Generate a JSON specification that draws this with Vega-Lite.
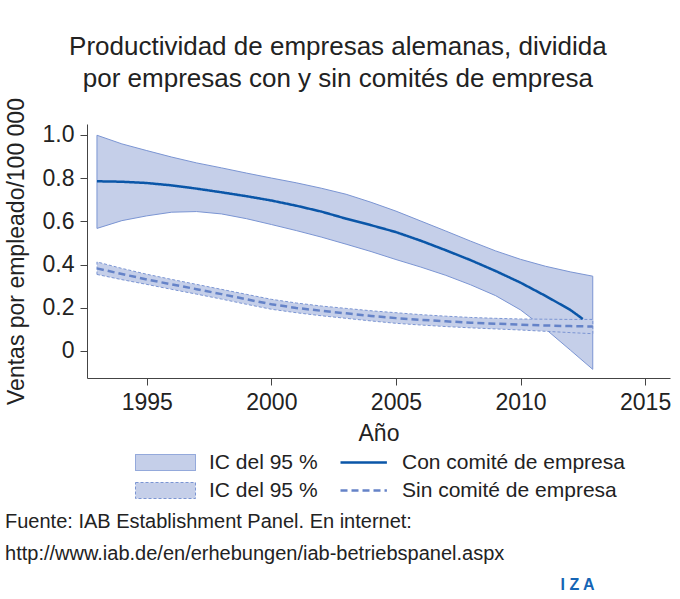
{
  "$schema": "https://vega.github.io/schema/vega-lite/v6.json",
  "background": "white",
  "padding": {"left": 5, "top": 33, "right": 8, "bottom": 2},
  "title": {"text": "I Z A", "orient": "bottom", "anchor": "end", "fontSize": 16, "fontWeight": "bold", "color": "#1565b5", "dx": -76, "offset": 13},
  "resolve": {"scale": {"fill": "independent", "stroke": "independent", "strokeDash": "independent"}, "legend": {"fill": "independent", "stroke": "independent", "strokeDash": "independent"}},
  "datasets": {
    "bandas": [
      {"banda": "IC con", "anio": 1993, "lo": 0.567, "hi": 0.998},
      {"banda": "IC con", "anio": 1994, "lo": 0.603, "hi": 0.958},
      {"banda": "IC con", "anio": 1995, "lo": 0.625, "hi": 0.927},
      {"banda": "IC con", "anio": 1996, "lo": 0.642, "hi": 0.897},
      {"banda": "IC con", "anio": 1997, "lo": 0.645, "hi": 0.870},
      {"banda": "IC con", "anio": 1998, "lo": 0.634, "hi": 0.847},
      {"banda": "IC con", "anio": 1999, "lo": 0.612, "hi": 0.823},
      {"banda": "IC con", "anio": 2000, "lo": 0.585, "hi": 0.800},
      {"banda": "IC con", "anio": 2001, "lo": 0.557, "hi": 0.778},
      {"banda": "IC con", "anio": 2002, "lo": 0.527, "hi": 0.753},
      {"banda": "IC con", "anio": 2003, "lo": 0.494, "hi": 0.725},
      {"banda": "IC con", "anio": 2004, "lo": 0.460, "hi": 0.688},
      {"banda": "IC con", "anio": 2005, "lo": 0.423, "hi": 0.647},
      {"banda": "IC con", "anio": 2006, "lo": 0.388, "hi": 0.601},
      {"banda": "IC con", "anio": 2007, "lo": 0.350, "hi": 0.555},
      {"banda": "IC con", "anio": 2008, "lo": 0.306, "hi": 0.508},
      {"banda": "IC con", "anio": 2009, "lo": 0.256, "hi": 0.463},
      {"banda": "IC con", "anio": 2010, "lo": 0.190, "hi": 0.424},
      {"banda": "IC con", "anio": 2011, "lo": 0.102, "hi": 0.392},
      {"banda": "IC con", "anio": 2012, "lo": 0.004, "hi": 0.366},
      {"banda": "IC con", "anio": 2012.9, "lo": -0.085, "hi": 0.346},
      {"banda": "IC sin", "anio": 1993, "lo": 0.354, "hi": 0.412},
      {"banda": "IC sin", "anio": 1994, "lo": 0.330, "hi": 0.382},
      {"banda": "IC sin", "anio": 1995, "lo": 0.308, "hi": 0.355},
      {"banda": "IC sin", "anio": 1996, "lo": 0.285, "hi": 0.331},
      {"banda": "IC sin", "anio": 1997, "lo": 0.263, "hi": 0.308},
      {"banda": "IC sin", "anio": 1998, "lo": 0.240, "hi": 0.285},
      {"banda": "IC sin", "anio": 1999, "lo": 0.216, "hi": 0.262},
      {"banda": "IC sin", "anio": 2000, "lo": 0.193, "hi": 0.239},
      {"banda": "IC sin", "anio": 2001, "lo": 0.177, "hi": 0.222},
      {"banda": "IC sin", "anio": 2002, "lo": 0.163, "hi": 0.208},
      {"banda": "IC sin", "anio": 2003, "lo": 0.151, "hi": 0.197},
      {"banda": "IC sin", "anio": 2004, "lo": 0.139, "hi": 0.186},
      {"banda": "IC sin", "anio": 2005, "lo": 0.128, "hi": 0.177},
      {"banda": "IC sin", "anio": 2006, "lo": 0.120, "hi": 0.168},
      {"banda": "IC sin", "anio": 2007, "lo": 0.113, "hi": 0.161},
      {"banda": "IC sin", "anio": 2008, "lo": 0.107, "hi": 0.155},
      {"banda": "IC sin", "anio": 2009, "lo": 0.102, "hi": 0.151},
      {"banda": "IC sin", "anio": 2010, "lo": 0.097, "hi": 0.148},
      {"banda": "IC sin", "anio": 2011, "lo": 0.091, "hi": 0.147},
      {"banda": "IC sin", "anio": 2012, "lo": 0.085, "hi": 0.146},
      {"banda": "IC sin", "anio": 2012.9, "lo": 0.080, "hi": 0.146}
    ],
    "lineas": [
      {"linea": "Con comité de empresa", "anio": 1993, "ajuste": 0.785},
      {"linea": "Con comité de empresa", "anio": 1994, "ajuste": 0.783},
      {"linea": "Con comité de empresa", "anio": 1995, "ajuste": 0.777},
      {"linea": "Con comité de empresa", "anio": 1996, "ajuste": 0.766},
      {"linea": "Con comité de empresa", "anio": 1997, "ajuste": 0.751},
      {"linea": "Con comité de empresa", "anio": 1998, "ajuste": 0.734},
      {"linea": "Con comité de empresa", "anio": 1999, "ajuste": 0.716},
      {"linea": "Con comité de empresa", "anio": 2000, "ajuste": 0.696},
      {"linea": "Con comité de empresa", "anio": 2001, "ajuste": 0.672},
      {"linea": "Con comité de empresa", "anio": 2002, "ajuste": 0.645},
      {"linea": "Con comité de empresa", "anio": 2003, "ajuste": 0.612},
      {"linea": "Con comité de empresa", "anio": 2004, "ajuste": 0.582},
      {"linea": "Con comité de empresa", "anio": 2005, "ajuste": 0.550},
      {"linea": "Con comité de empresa", "anio": 2006, "ajuste": 0.510},
      {"linea": "Con comité de empresa", "anio": 2007, "ajuste": 0.466},
      {"linea": "Con comité de empresa", "anio": 2008, "ajuste": 0.420},
      {"linea": "Con comité de empresa", "anio": 2009, "ajuste": 0.370},
      {"linea": "Con comité de empresa", "anio": 2010, "ajuste": 0.316},
      {"linea": "Con comité de empresa", "anio": 2011, "ajuste": 0.255},
      {"linea": "Con comité de empresa", "anio": 2012, "ajuste": 0.190},
      {"linea": "Con comité de empresa", "anio": 2012.5, "ajuste": 0.148},
      {"linea": "Sin comité de empresa", "anio": 1993, "ajuste": 0.382},
      {"linea": "Sin comité de empresa", "anio": 1994, "ajuste": 0.356},
      {"linea": "Sin comité de empresa", "anio": 1995, "ajuste": 0.331},
      {"linea": "Sin comité de empresa", "anio": 1996, "ajuste": 0.308},
      {"linea": "Sin comité de empresa", "anio": 1997, "ajuste": 0.286},
      {"linea": "Sin comité de empresa", "anio": 1998, "ajuste": 0.263},
      {"linea": "Sin comité de empresa", "anio": 1999, "ajuste": 0.239},
      {"linea": "Sin comité de empresa", "anio": 2000, "ajuste": 0.216},
      {"linea": "Sin comité de empresa", "anio": 2001, "ajuste": 0.199},
      {"linea": "Sin comité de empresa", "anio": 2002, "ajuste": 0.186},
      {"linea": "Sin comité de empresa", "anio": 2003, "ajuste": 0.174},
      {"linea": "Sin comité de empresa", "anio": 2004, "ajuste": 0.162},
      {"linea": "Sin comité de empresa", "anio": 2005, "ajuste": 0.152},
      {"linea": "Sin comité de empresa", "anio": 2006, "ajuste": 0.144},
      {"linea": "Sin comité de empresa", "anio": 2007, "ajuste": 0.137},
      {"linea": "Sin comité de empresa", "anio": 2008, "ajuste": 0.131},
      {"linea": "Sin comité de empresa", "anio": 2009, "ajuste": 0.126},
      {"linea": "Sin comité de empresa", "anio": 2010, "ajuste": 0.122},
      {"linea": "Sin comité de empresa", "anio": 2011, "ajuste": 0.118},
      {"linea": "Sin comité de empresa", "anio": 2012, "ajuste": 0.115},
      {"linea": "Sin comité de empresa", "anio": 2012.9, "ajuste": 0.113}
    ]
  },
  "vconcat": [
    {
      "title": {
        "text": ["Productividad de empresas alemanas, dividida", "por empresas con y sin comités de empresa"],
        "fontSize": 26, "fontWeight": "normal", "color": "#222222", "lineHeight": 32, "anchor": "middle", "offset": 6
      },
      "resolve": {"scale": {"fill": "independent", "stroke": "independent", "strokeDash": "independent"}, "legend": {"fill": "independent", "stroke": "independent", "strokeDash": "independent"}},
      "vconcat": [
        {
          "title": {
            "text": ["Fuente: IAB Establishment Panel. En internet:", "http://www.iab.de/en/erhebungen/iab-betriebspanel.aspx"],
            "orient": "bottom", "anchor": "start", "fontSize": 20, "fontWeight": "normal", "color": "#222222", "lineHeight": 32, "offset": 11
          },
          "width": 583,
          "height": 254,
          "layer": [
            {
              "data": {"name": "bandas"},
              "transform": [{"filter": "datum.banda == 'IC con'"}],
              "mark": {"type": "area", "stroke": "#7b95d3", "strokeWidth": 1},
              "encoding": {
                "x": {"field": "anio", "type": "quantitative", "scale": {"domain": [1992.6, 2016], "nice": false, "zero": false},
                      "axis": {"values": [1995, 2000, 2005, 2010, 2015], "format": "d", "title": "Año"}},
                "y": {"field": "lo", "type": "quantitative", "scale": {"domain": [-0.125, 1.05], "nice": false, "zero": false},
                      "axis": {"values": [0, 0.2, 0.4, 0.6, 0.8, 1.0], "labelExpr": "datum.value == 0 ? '0' : format(datum.value, '.1f')", "title": "Ventas por empleado/100 000"}},
                "y2": {"field": "hi"},
                "fill": {"field": "banda", "type": "nominal", "scale": {"domain": ["IC con", "IC sin"], "range": ["#c5cfe9", "#c5cfe9"]},
                         "legend": {"title": null, "orient": "bottom", "direction": "vertical", "symbolType": "M-1,-1H6.5V1H-1Z", "symbolSize": 256, "symbolStrokeColor": "#7b95d3", "symbolStrokeWidth": 1, "labelOffset": 55, "labelExpr": "'IC del 95 %'",
                                    "encode": {"symbols": {"update": {"strokeDash": {"signal": "datum.value == 'IC sin' ? [3, 2] : [1, 0]"}}}}}}
              }
            },
            {
              "data": {"name": "bandas"},
              "transform": [{"filter": "datum.banda == 'IC sin'"}],
              "mark": {"type": "area", "stroke": "#7b95d3", "strokeWidth": 1, "strokeDash": [3, 2]},
              "encoding": {
                "x": {"field": "anio", "type": "quantitative"},
                "y": {"field": "lo", "type": "quantitative"},
                "y2": {"field": "hi"},
                "fill": {"field": "banda", "type": "nominal"}
              }
            },
            {
              "data": {"name": "lineas"},
              "mark": {"type": "line", "strokeWidth": 2.5},
              "encoding": {
                "x": {"field": "anio", "type": "quantitative"},
                "y": {"field": "ajuste", "type": "quantitative"},
                "stroke": {"field": "linea", "type": "nominal", "scale": {"domain": ["Con comité de empresa", "Sin comité de empresa"], "range": ["#0a56a8", "#6583c8"]},
                           "legend": {"title": null, "orient": "bottom", "direction": "vertical", "symbolType": "M-1,0H4.8", "symbolSize": 256, "symbolStrokeWidth": 2.5, "labelOffset": 43}},
                "strokeDash": {"field": "linea", "type": "nominal", "scale": {"domain": ["Con comité de empresa", "Sin comité de empresa"], "range": [[1, 0], [7, 4]]},
                           "legend": {"title": null, "orient": "bottom", "direction": "vertical", "symbolType": "M-1,0H4.8", "symbolSize": 256, "symbolStrokeWidth": 2.5, "labelOffset": 43}}
              }
            }
          ]
        }
      ]
    }
  ],
  "config": {
    "font": "Liberation Sans",
    "view": {"stroke": null},
    "axis": {
      "grid": false, "domainColor": "#444444", "tickColor": "#444444", "tickSize": 7,
      "labelFontSize": 23, "labelColor": "#222222",
      "titleFontSize": 23, "titleFontWeight": "normal", "titleColor": "#222222"
    },
    "axisX": {"labelPadding": 6, "titlePadding": 8},
    "axisY": {"labelPadding": 6, "titlePadding": 14},
    "legend": {"labelFontSize": 21, "labelColor": "#222222", "rowPadding": 6, "offset": 7, "labelLimit": 400,
               "layout": {"bottom": {"anchor": "middle", "margin": 20}}}
  }
}
